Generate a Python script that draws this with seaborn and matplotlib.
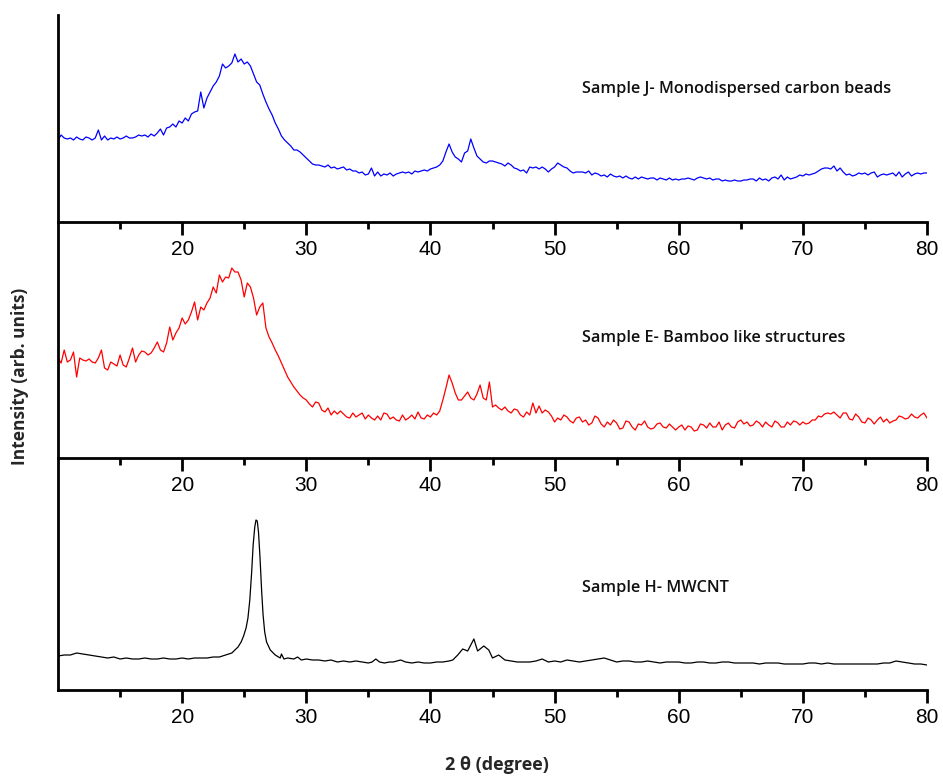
import numpy as np
import pandas as pd
import matplotlib
matplotlib.use("Agg")
import matplotlib.pyplot as plt
import seaborn as sns

# ---------------- data (arbitrary intensity units) ----------------
# Samples J and E are read on a 0.25 degree grid (one row = one degree)
x_grid = np.arange(10, 80.001, 0.25)

y_J = [82, 87, 84, 83,   84, 82, 85, 83,   82, 85, 84, 82,   84, 92, 82, 86,
       82, 84, 83, 85,   83, 84, 86, 84,   84, 85, 87, 86,   87, 85, 88, 86,
       89, 93, 87, 94,   95, 98, 95, 101,  99, 104, 101, 108, 110, 111, 130, 114,
       124, 130, 136, 140, 146, 158, 154, 156, 159, 168, 160, 163, 158, 160, 156, 148,
       140, 137, 128, 120, 113, 107, 99, 93, 86, 82, 79, 76,  72, 72, 70, 67,
       64, 61, 58, 57,   57, 56, 55, 57,   54, 55, 53, 54,   55, 52, 53, 51,
       51, 49, 50, 47,   48, 54, 46, 50,   46, 48, 47, 49,   46, 48, 49, 50,
       49, 50, 48, 51,   50, 51, 52, 51,   53, 54, 55, 57,   61, 70, 78, 70,
       65, 63, 60, 69,   71, 83, 74, 66,   63, 60, 59, 61,   61, 60, 59, 58,
       56, 59, 57, 54,   53, 51, 52, 49,   55, 54, 55, 53,   55, 53, 50, 53,
       55, 59, 57, 55,   54, 51, 49, 50,   50, 50, 49, 51,   47, 49, 48, 46,
       47, 45, 48, 46,   45, 46, 44, 46,   44, 43, 45, 43,   45, 44, 43, 44,
       44, 42, 44, 43,   42, 44, 42, 43,   42, 43, 43, 44,   43, 42, 44, 45,
       44, 43, 44, 42,   43, 43, 41, 42,   41, 41, 42, 41,   41, 42, 42, 43,
       43, 41, 44, 42,   43, 41, 44, 45,   43, 47, 42, 45,   43, 44, 45, 47,
       46, 48, 47, 48,   49, 51, 53, 54,   54, 53, 56, 51,   54, 50, 47, 48,
       46, 47, 49, 48,   49, 47, 49, 50,   45, 47, 48, 47,   48, 49, 46, 50,
       45, 48, 50, 46,   48, 49, 48, 49,   49]

y_E = [100, 95, 108, 96,  98, 106, 81, 100,  98, 97, 99, 96,   95, 100, 108, 90,
       88, 96, 94, 92,   103, 93, 91, 100,  110, 96, 103, 107, 106, 103, 105, 110,
       116, 108, 106, 115, 131, 118, 125, 130, 140, 134, 138, 146, 156, 138, 151, 148,
       155, 160, 171, 165, 183, 176, 181, 180, 190, 186, 186, 178, 161, 175, 171, 160,
       143, 151, 155, 130, 121, 115, 108, 102, 95, 88, 81, 76,  71, 67, 63, 60,
       58, 54, 51, 56,   55, 48, 46, 50,   43, 47, 44, 47,   44, 41, 40, 45,
       41, 43, 45, 39,   43, 40, 38, 42,   38, 45, 44, 39,   41, 38, 37, 43,
       38, 40, 43, 39,   46, 40, 39, 43,   41, 45, 43, 47,   58, 70, 83, 75,
       65, 58, 58, 62,   66, 60, 58, 64,   73, 60, 58, 76,   51, 53, 50, 48,
       51, 47, 45, 49,   48, 43, 41, 46,   43, 55, 45, 52,   45, 48, 46, 42,
       36, 40, 38, 43,   41, 37, 35, 40,   41, 36, 38, 33,   35, 42, 40, 34,
       31, 36, 33, 38,   35, 29, 30, 37,   36, 31, 28, 34,   33, 37, 31, 29,
       30, 34, 35, 31,   30, 34, 31, 28,   31, 33, 28, 32,   31, 27, 28, 34,
       33, 30, 35, 31,   31, 36, 28, 33,   35, 31, 30, 36,   38, 34, 36, 32,
       33, 37, 35, 31,   36, 33, 31, 37,   35, 31, 31, 36,   33, 37, 36, 33,
       36, 34, 35, 38,   38, 42, 41, 44,   45, 44, 46, 43,   40, 45, 45, 39,
       38, 44, 41, 36,   35, 40, 38, 34,   38, 41, 36, 39,   35, 37, 38, 42,
       41, 39, 40, 44,   41, 40, 43, 45,   40]

x_H = [10, 10.5, 11, 11.5, 12, 12.5, 13, 13.5, 14, 14.5, 15, 15.5, 16, 16.5, 17, 17.5, 18, 18.5,
       19, 19.5, 20, 20.5, 21, 21.5, 22, 22.5, 23, 23.5, 24, 24.5, 24.75, 24.95, 25.15, 25.3,
       25.45, 25.6, 25.72, 25.85, 25.95, 26.05, 26.15, 26.27, 26.4, 26.52, 26.65, 26.8, 27.1,
       27.5, 27.9, 28.0, 28.2, 28.5,
       29, 29.3, 29.6, 30, 30.5, 31, 31.5, 32, 32.5, 33, 33.5, 34, 34.5, 35, 35.3, 35.6, 35.9, 36.3,
       36.7, 37, 37.6, 38, 38.5, 39, 39.5, 40, 40.5, 41, 41.5, 41.8, 42.2, 42.6, 43.0, 43.5, 43.8,
       44.3, 44.7, 45.0, 45.5, 46, 46.5, 47, 47.5, 48, 48.5, 49, 49.5, 50, 50.5, 51, 51.5, 52, 52.5,
       53, 53.5, 54, 54.5, 55, 55.5, 56, 56.5, 57, 57.5, 58, 58.5, 59, 59.5, 60, 60.5, 61, 61.5, 62,
       62.5, 63, 63.5, 64, 64.5, 65, 65.5, 66, 66.5, 67, 67.5, 68, 68.5, 69, 69.5, 70, 70.5, 71,
       71.5, 72, 72.5, 73, 73.5, 74, 74.5, 75, 75.5, 76, 76.5, 77, 77.5, 78, 78.5, 79, 79.5, 80]
y_H = [34, 35, 35, 37, 36, 35, 34, 33, 32, 33, 31, 32, 31, 31, 32, 31, 31, 32,
       31, 31, 32, 31, 32, 32, 32, 33, 33, 35, 37, 43, 48, 54, 62, 72,
       90, 118, 145, 163, 170, 169, 158, 133, 100, 75, 58, 48, 40,
       35, 32, 36, 31, 32,
       31, 33, 30, 31, 30, 30, 29, 30, 28, 29, 28, 29, 28, 27, 28, 31, 28, 27,
       28, 28, 30, 28, 27, 28, 27, 27, 28, 28, 29, 30, 35, 41, 39, 51, 39,
       44, 40, 32, 35, 30, 29, 28, 28, 28, 29, 31, 28, 29, 28, 30, 29, 28, 29,
       30, 31, 32, 30, 28, 29, 29, 28, 28, 29, 28, 27, 28, 28, 28, 27, 27, 28, 28,
       27, 27, 28, 28, 27, 27, 27, 27, 26, 27, 27, 27, 26, 26, 26, 26, 27, 27,
       26, 27, 26, 26, 26, 26, 26, 26, 26, 26, 27, 27, 29, 28, 27, 26, 26, 25]

labels = ["Sample J- Monodispersed carbon beads",
          "Sample E- Bamboo like structures",
          "Sample H- MWCNT"]
colors = ["#0000ff", "#ff0000", "#000000"]
major_ticks = [20, 30, 40, 50, 60, 70, 80]
minor_ticks = [15, 25, 35, 45, 55, 65, 75]

# ---------------- figure ----------------
sns.set_theme(style="ticks")
plt.rcParams["font.family"] = ["Liberation Sans", "DejaVu Sans"]

W, H = 943, 776
fig = plt.figure(figsize=(W / 100, H / 100), dpi=100)

def fx(px):
    return px / W

def fy(py):
    return 1 - py / H

left, right = 58, 927
panels = [(15, 222), (222, 458), (458, 690)]
ylims = [(0, 207), (0, 236), (0, 232)]
series = [(x_grid, y_J), (x_grid, y_E), (x_H, y_H)]
label_y = [89, 338, 588]

for (top, bot), ylim, (xs, ys), col, lab, ly in zip(panels, ylims, series, colors, labels, label_y):
    ax = fig.add_axes([fx(left), fy(bot), fx(right - left), (bot - top) / H])
    ax.set_facecolor("none")
    df = pd.DataFrame({"x": xs, "y": ys})
    sns.lineplot(data=df, x="x", y="y", ax=ax, color=col, linewidth=0.9, sort=True)
    ax.set_xlim(10, 80)
    ax.set_ylim(*ylim)
    ax.set_xticks(major_ticks)
    ax.set_xticks(minor_ticks, minor=True)
    ax.set_yticks([])
    ax.set_xlabel("")
    ax.set_ylabel("")
    for s in ["top", "right"]:
        ax.spines[s].set_visible(False)
    for s in ["left", "bottom"]:
        ax.spines[s].set_linewidth(2)
        ax.spines[s].set_color("black")
    ax.tick_params(axis="x", which="major", direction="out", length=9.5, width=2,
                   labelsize=15, pad=3.5, colors="black")
    ax.tick_params(axis="x", which="minor", direction="out", length=5, width=2, colors="black")
    ax.grid(False)
    fig.text(fx(582), fy(ly), lab, fontsize=11.7, fontweight="semibold",
             family=["Open Sans", "DejaVu Sans"], va="center", ha="left", color="#111111")

fig.text(fx(20), fy(376), "Intensity (arb. units)", rotation=90, fontsize=12.5,
         fontweight="bold", family=["Open Sans", "DejaVu Sans"], va="center", ha="center")
fig.text(fx(497), fy(765), "2 θ (degree)", fontsize=13, fontweight="bold",
         family=["Open Sans", "DejaVu Sans"], va="center", ha="center")

fig.savefig("out.png", dpi=100)
